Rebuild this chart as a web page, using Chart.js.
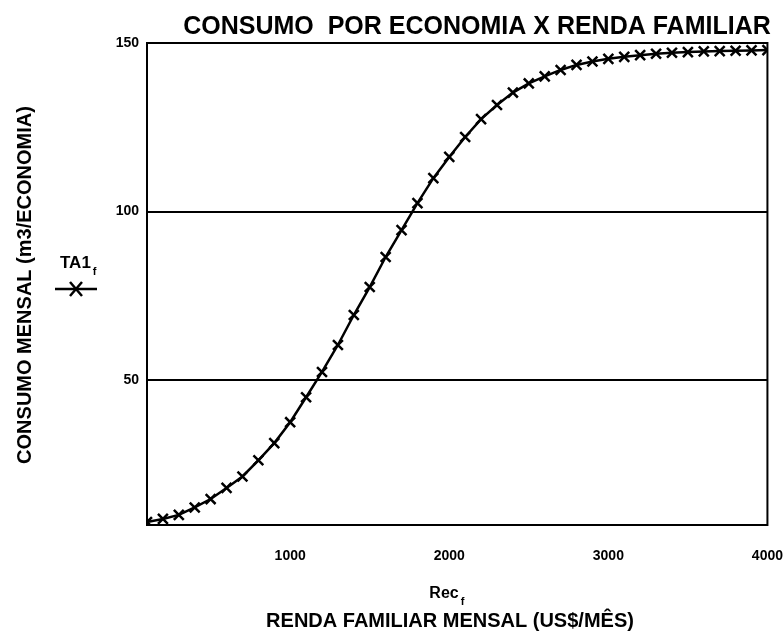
<!DOCTYPE html>
<html>
<head>
<meta charset="utf-8">
<title>Consumo por economia x renda familiar</title>
<script src="https://cdn.jsdelivr.net/npm/chart.js@4/dist/chart.umd.min.js"></script>
<style>
  body { margin: 0; background: #fff; }
  canvas { display: block; }
</style>
</head>
<body>
<canvas id="consumoChart" width="783" height="641"></canvas>
<script>
'use strict';

// Rec_f : renda familiar mensal (US$/mes)
const rendaFamiliar = [
  100, 200, 300, 400, 500, 600, 700, 800, 900, 1000,
  1100, 1200, 1300, 1400, 1500, 1600, 1700, 1800, 1900, 2000,
  2100, 2200, 2300, 2400, 2500, 2600, 2700, 2800, 2900, 3000,
  3100, 3200, 3300, 3400, 3500, 3600, 3700, 3800, 3900, 4000
];

// TA1_f : consumo mensal (m3/economia)
const consumoMensal = [
  7.9, 8.8, 10.0, 12.2, 14.7, 18.0, 21.4, 26.2, 31.3, 37.5,
  44.9, 52.4, 60.4, 69.3, 77.6, 86.5, 94.5, 102.5, 109.9, 116.2,
  122.1, 127.4, 131.6, 135.3, 138.0, 140.1, 142.0, 143.5, 144.5, 145.3,
  145.9, 146.4, 146.8, 147.1, 147.3, 147.5, 147.6, 147.7, 147.8, 147.9
];

const xTicks = [1000, 2000, 3000, 4000];
const yTicks = [50, 100, 150];

const FONT = "'Liberation Sans', Arial, sans-serif";

// titles, legend and the frame round the plot
const labelsPlugin = {
  id: 'labels',
  afterDraw(chart) {
    const ctx = chart.ctx;
    const area = chart.chartArea;
    ctx.save();
    ctx.fillStyle = '#000';
    ctx.strokeStyle = '#000';

    ctx.lineWidth = 2;
    ctx.strokeRect(area.left, area.top, area.right - area.left, area.bottom - area.top);

    ctx.textAlign = 'center';
    ctx.textBaseline = 'middle';
    ctx.font = 'bold 25px ' + FONT;
    ctx.fillText('CONSUMO  POR ECONOMIA X RENDA FAMILIAR', 477, 27);

    ctx.save();
    ctx.translate(25, 285);
    ctx.rotate(-Math.PI / 2);
    ctx.font = 'bold 20px ' + FONT;
    ctx.fillText('CONSUMO MENSAL (m3/ECONOMIA)', 0, 0);
    ctx.restore();

    // legend
    ctx.textAlign = 'left';
    ctx.textBaseline = 'alphabetic';
    ctx.font = 'bold 17px ' + FONT;
    ctx.fillText('TA1', 60, 268);
    const w = ctx.measureText('TA1').width;
    ctx.font = 'bold 11px ' + FONT;
    ctx.fillText('f', 60 + w + 2, 275);
    ctx.lineWidth = 2.5;
    ctx.beginPath();
    ctx.moveTo(55, 289);
    ctx.lineTo(97, 289);
    ctx.stroke();
    ctx.beginPath();
    ctx.moveTo(70, 282); ctx.lineTo(82, 296);
    ctx.moveTo(82, 282); ctx.lineTo(70, 296);
    ctx.stroke();

    // x axis titles
    ctx.font = 'bold 16px ' + FONT;
    const rw = ctx.measureText('Rec').width;
    ctx.fillText('Rec', 447 - rw / 2 - 3, 598);
    ctx.font = 'bold 11px ' + FONT;
    ctx.fillText('f', 447 + rw / 2 - 1, 605);
    ctx.textAlign = 'center';
    ctx.font = 'bold 20px ' + FONT;
    ctx.fillText('RENDA FAMILIAR MENSAL (US$/MÊS)', 450, 627);

    ctx.restore();
  }
};

const ctx = document.getElementById('consumoChart').getContext('2d');
new Chart(ctx, {
  type: 'line',
  data: {
    datasets: [{
      label: 'TA1',
      data: rendaFamiliar.map((x, i) => ({ x: x, y: consumoMensal[i] })),
      borderColor: '#000',
      borderWidth: 2.5,
      pointStyle: 'crossRot',
      pointRadius: 7,
      pointBorderWidth: 2.5,
      pointBorderColor: '#000',
      tension: 0,
      fill: false
    }]
  },
  options: {
    responsive: false,
    animation: false,
    layout: { padding: { top: 43, right: 0, bottom: 0, left: 0 } },
    plugins: {
      legend: { display: false },
      tooltip: { enabled: false }
    },
    scales: {
      x: {
        type: 'linear',
        min: 100,
        max: 4000,
        afterBuildTicks(scale) {
          scale.ticks = xTicks.map(v => ({ value: v }));
        },
        afterFit(scale) { scale.height = 116; },
        // invisible tick marks push the labels down below the frame
        grid: {
          drawOnChartArea: false,
          drawTicks: true,
          tickLength: 23,
          color: 'rgba(0,0,0,0)'
        },
        border: { display: false },
        ticks: {
          padding: 0,
          color: '#000',
          font: { family: FONT, size: 14, weight: 'bold' },
          maxRotation: 0,
          callback: v => String(v)
        }
      },
      y: {
        min: 7,
        max: 150,
        afterBuildTicks(scale) {
          scale.ticks = yTicks.map(v => ({ value: v }));
        },
        afterFit(scale) { scale.width = 147; },
        grid: {
          color: '#000',
          lineWidth: 2,
          drawTicks: false
        },
        border: { display: false },
        ticks: {
          padding: 8,
          color: '#000',
          font: { family: FONT, size: 14, weight: 'bold' }
        }
      }
    }
  },
  plugins: [labelsPlugin]
});
</script>
</body>
</html>
